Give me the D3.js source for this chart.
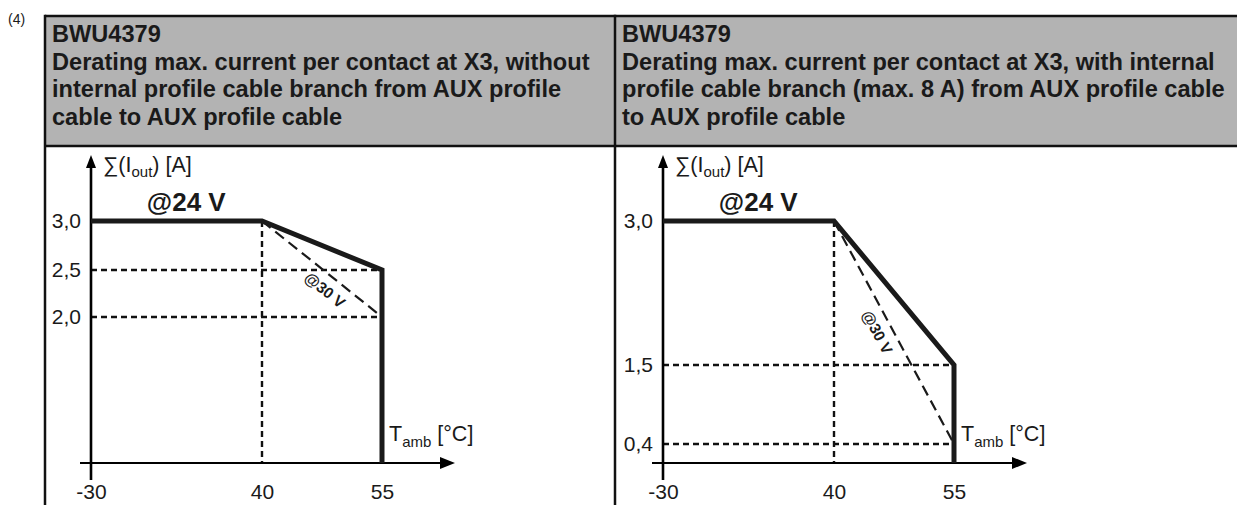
<!DOCTYPE html>
<html>
<head>
<meta charset="utf-8">
<script src="https://cdn.jsdelivr.net/npm/d3@7"></script>
<style>
  html, body { margin: 0; padding: 0; background: #fff; }
  svg { display: block; }
  text { font-family: "Liberation Sans", Arial, sans-serif; fill: #1a1a1a; }
</style>
</head>
<body>
<svg id="chart" width="1237" height="505"></svg>
<script>
// ---------------- data ----------------
const xTickValues = [-30, 40, 55];
const leftTitle = ["BWU4379",
  "Derating max. current per contact at X3, without",
  "internal profile cable branch from AUX profile",
  "cable to AUX profile cable"];
const rightTitle = ["BWU4379",
  "Derating max. current per contact at X3, with internal",
  "profile cable branch (max. 8 A) from AUX profile cable",
  "to AUX profile cable"];
const leftYTicks = [3.0, 2.5, 2.0];
const rightYTicks = [3.0, 1.5, 0.4];
const leftCurve24 = [[-30, 3.0], [40, 3.0], [55, 2.5], [55, 0]];
const leftCurve30 = [[40, 3.0], [55, 2.0]];
const rightCurve24 = [[-30, 3.0], [40, 3.0], [55, 1.5], [55, 0]];
const rightCurve30 = [[40, 3.0], [55, 0.4]];
const label24 = "@24 V";
const label30 = "@30 V";
const cornerLabel = "(4)";

// ---------------- layout ----------------
const svg = d3.select("#chart");
const W = 1237, H = 505;
const headerTop = 16, headerBottom = 146, tableLeft = 45, midX = 615;
const axisY = 463, arrowTopY = 155;

svg.append("text").attr("x", 8).attr("y", 24).attr("font-size", 14).text(cornerLabel);

// header background
svg.append("rect").attr("x", tableLeft).attr("y", headerTop)
  .attr("width", W - tableLeft).attr("height", headerBottom - headerTop)
  .attr("fill", "#b3b3b3");

// table borders
const border = svg.append("g").attr("stroke", "#111").attr("stroke-width", 2.5);
border.append("line").attr("x1", tableLeft).attr("x2", W).attr("y1", headerTop).attr("y2", headerTop);
border.append("line").attr("x1", tableLeft).attr("x2", W).attr("y1", headerBottom).attr("y2", headerBottom);
border.append("line").attr("x1", tableLeft).attr("x2", tableLeft).attr("y1", headerTop - 1.25).attr("y2", H);
border.append("line").attr("x1", midX).attr("x2", midX).attr("y1", headerTop - 1.25).attr("y2", H);

function drawTitle(lines, x) {
  const t = svg.append("text").attr("font-size", 23.6).attr("font-weight", "bold");
  lines.forEach((l, i) => {
    t.append("tspan").attr("x", x).attr("y", 42 + i * 27.6).text(l);
  });
}
drawTitle(leftTitle, 52);
drawTitle(rightTitle, 622);

const fmt = v => d3.format(".1f")(v).replace(".", ",");

function drawPanel(x0, yTicks, yRange, curve24, curve30, lbl24X, lbl30T) {
  const x = d3.scaleLinear().domain(xTickValues).range([x0, x0 + 171, x0 + 291]);
  const yDomain = [0].concat(yTicks.slice().reverse());
  const y = d3.scaleLinear().domain(yDomain).range(yRange);
  const g = svg.append("g");

  // grid (dotted)
  const grid = g.append("g").attr("stroke", "#111").attr("stroke-width", 2.4)
    .attr("stroke-dasharray", "6,4").attr("fill", "none");
  grid.append("line").attr("x1", x(40)).attr("x2", x(40)).attr("y1", y(3.0)).attr("y2", axisY);
  yTicks.filter(v => v < 3.0).forEach(v => {
    grid.append("line").attr("x1", x(-30)).attr("x2", x(55)).attr("y1", y(v)).attr("y2", y(v));
  });

  // axes lines
  const ax = g.append("g").attr("stroke", "#000");
  ax.append("line").attr("x1", x(-30)).attr("x2", x(-30)).attr("y1", arrowTopY + 8).attr("y2", 480).attr("stroke-width", 2.6);
  ax.append("line").attr("x1", x(-30) - 11).attr("x2", x0 + 356).attr("y1", axisY).attr("y2", axisY).attr("stroke-width", 2.2);
  g.append("path").attr("fill", "#000")
    .attr("d", `M${x(-30)},${arrowTopY} L${x(-30) - 5},${arrowTopY + 13} L${x(-30) + 5},${arrowTopY + 13} Z`);
  g.append("path").attr("fill", "#000")
    .attr("d", `M${x0 + 364},${axisY} L${x0 + 349},${axisY - 6} L${x0 + 349},${axisY + 6} Z`);

  // tick labels via d3 axes
  const yAxis = g.append("g").attr("transform", `translate(${x(-30)},0)`)
    .call(d3.axisLeft(y).tickValues(yTicks).tickSize(0).tickPadding(10).tickFormat(fmt));
  yAxis.select(".domain").remove();
  yAxis.selectAll("text").attr("font-size", 21).attr("font-family", "Liberation Sans, Arial, sans-serif").attr("fill", "#1a1a1a");
  const xAxis = g.append("g").attr("transform", `translate(0,${axisY})`)
    .call(d3.axisBottom(x).tickValues(xTickValues).tickSize(0).tickPadding(21).tickFormat(d3.format("d")));
  xAxis.select(".domain").remove();
  xAxis.selectAll("text").attr("font-size", 21).attr("font-family", "Liberation Sans, Arial, sans-serif").attr("fill", "#1a1a1a");
  xAxis.selectAll("text").text(d => String(d));

  // curves
  const line = d3.line().x(d => x(d[0])).y(d => y(d[1]));
  g.append("path").datum(curve30).attr("d", line).attr("fill", "none")
    .attr("stroke", "#1a1a1a").attr("stroke-width", 2.2).attr("stroke-dasharray", "11,6");
  g.append("path").datum(curve24).attr("d", line).attr("fill", "none")
    .attr("stroke", "#1a1a1a").attr("stroke-width", 5).attr("stroke-linejoin", "miter");

  // axis titles
  const yt = g.append("text").attr("x", x(-30) + 12).attr("y", 172).attr("font-size", 21.5);
  yt.append("tspan").text("\u2211(I");
  yt.append("tspan").attr("font-size", 15).attr("dy", 5).text("out");
  yt.append("tspan").attr("dy", -5).text(") [A]");
  const xt = g.append("text").attr("x", x(55) + 7).attr("y", 441).attr("font-size", 21.5);
  xt.append("tspan").text("T");
  xt.append("tspan").attr("font-size", 15).attr("dy", 6).text("amb");
  xt.append("tspan").attr("dy", -6).text(" [°C]");

  // @24 V
  g.append("text").attr("x", x(lbl24X)).attr("y", 211).attr("font-size", 26)
    .attr("font-weight", "bold").attr("text-anchor", "middle").text(label24);

  // @30 V along the dashed line
  const p0 = [x(curve30[0][0]), y(curve30[0][1])];
  const p1 = [x(curve30[1][0]), y(curve30[1][1])];
  const dx = p1[0] - p0[0], dy = p1[1] - p0[1];
  const len = Math.hypot(dx, dy);
  const ux = dx / len, uy = dy / len;
  const nx = -uy, ny = ux;
  const off = 14.5;
  const cx = p0[0] + dx * lbl30T + nx * off;
  const cy = p0[1] + dy * lbl30T + ny * off;
  const ang = Math.atan2(dy, dx) * 180 / Math.PI;
  g.append("text").attr("transform", `translate(${cx},${cy}) rotate(${ang})`)
    .attr("font-size", 15.5).attr("font-weight", "bold").attr("text-anchor", "middle")
    .attr("dominant-baseline", "central").text(label30);
}

drawPanel(91, leftYTicks, [axisY, 317, 270, 221], leftCurve24, leftCurve30, 9, 0.6);
drawPanel(663, rightYTicks, [axisY, 444, 365, 221], rightCurve24, rightCurve30, 9, 0.467);
</script>
</body>
</html>
